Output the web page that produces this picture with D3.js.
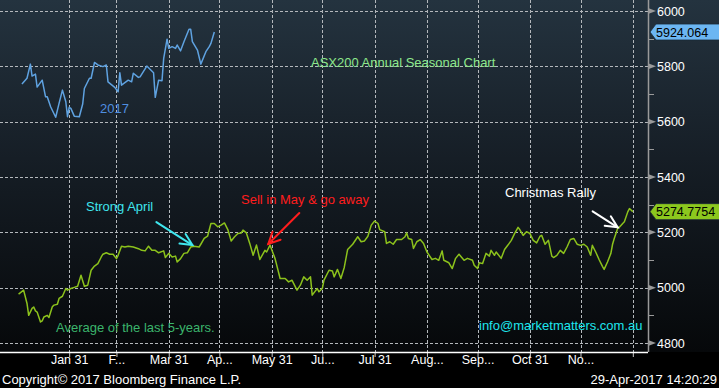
<!DOCTYPE html>
<html>
<head>
<meta charset="utf-8">
<script src="https://cdn.jsdelivr.net/npm/d3@7"></script>
<style>
  html, body { margin: 0; padding: 0; background: #000; }
  svg { display: block; }
  text { font-family: "Liberation Sans", Arial, sans-serif; }
</style>
</head>
<body>
<svg id="chart" width="719" height="388"></svg>
<script>
// ---- data (day of year, index level) ----
const seasonalAvg = [
  [0, 4977], [3, 4991], [5, 4943], [6, 4900], [8, 4925], [9, 4930], [10, 4916], [11, 4912],
  [13, 4876], [14, 4880], [15, 4894], [17, 4900], [18, 4892], [20, 4931], [21, 4937], [23, 4940],
  [24, 4961], [26, 4969], [28, 4997], [29, 4991], [31, 4997], [33, 5001], [35, 5005], [37, 5045],
  [39, 5005], [41, 5009], [43, 5063], [45, 5078], [47, 5087], [49, 5111], [50, 5121], [52, 5126],
  [54, 5121], [56, 5121], [58, 5105], [59, 5117], [61, 5150], [63, 5147], [65, 5150], [68, 5147],
  [71, 5141], [73, 5135], [75, 5133], [77, 5150], [79, 5135], [81, 5135], [83, 5126], [86, 5133],
  [87, 5109], [89, 5124], [91, 5111], [93, 5114], [94, 5093], [96, 5105], [98, 5124], [100, 5126],
  [102, 5147], [104, 5150], [107, 5147], [108, 5157], [110, 5178], [112, 5186], [114, 5232], [116, 5232],
  [118, 5220], [120, 5226], [122, 5234], [124, 5210], [126, 5169], [128, 5184], [130, 5196], [132, 5198],
  [133, 5208], [135, 5198], [137, 5160], [139, 5117], [141, 5154], [143, 5102], [146, 5135], [147, 5129],
  [149, 5154], [152, 5105], [155, 5033], [158, 5033], [160, 5021], [162, 5027], [165, 4991], [167, 5009],
  [169, 5039], [171, 5027], [173, 5039], [174, 4973], [177, 4997], [178, 4985], [180, 4997], [181, 5027],
  [184, 5063], [186, 5060], [187, 5039], [189, 5066], [191, 5033], [193, 5073], [195, 5138], [198, 5157],
  [201, 5184], [203, 5166], [205, 5169], [207, 5186], [209, 5226], [211, 5241], [213, 5232], [214, 5210],
  [217, 5202], [218, 5160], [220, 5166], [222, 5157], [224, 5174], [227, 5174], [229, 5184], [230, 5198],
  [231, 5178], [233, 5174], [234, 5142], [236, 5166], [238, 5174], [240, 5160], [242, 5129], [245, 5102],
  [247, 5106], [249, 5099], [251, 5133], [252, 5099], [255, 5090], [257, 5069], [259, 5106], [261, 5121],
  [264, 5099], [266, 5106], [269, 5099], [270, 5081], [272, 5069], [273, 5090], [275, 5087], [277, 5124],
  [279, 5114], [280, 5135], [282, 5117], [283, 5129], [286, 5106], [288, 5138], [290, 5154], [292, 5171],
  [294, 5196], [296, 5218], [297, 5210], [299, 5189], [301, 5202], [303, 5196], [305, 5171], [307, 5162],
  [309, 5186], [310, 5189], [312, 5157], [314, 5171], [316, 5114], [317, 5109], [319, 5117], [321, 5135],
  [323, 5124], [325, 5147], [327, 5174], [329, 5178], [331, 5157], [333, 5153], [335, 5157], [337, 5147],
  [339, 5117], [340, 5153], [342, 5129], [344, 5102], [346, 5077], [347, 5066], [349, 5093], [351, 5124],
  [352, 5157], [353, 5178], [355, 5214], [356, 5218], [358, 5232], [359, 5238], [361, 5274], [362, 5286],
  [364, 5274.7754]
];

const ytd2017 = [
  [2, 5736], [5, 5757], [7, 5808], [8, 5765], [10, 5772], [11, 5725], [14, 5750], [16, 5690],
  [17, 5690], [19, 5654], [22, 5616], [24, 5666], [26, 5714], [28, 5672], [29, 5618], [30, 5652],
  [31, 5648], [33, 5620], [36, 5618], [38, 5664], [39, 5720], [42, 5757], [43, 5757], [45, 5814],
  [47, 5805], [50, 5799], [52, 5805], [53, 5744], [57, 5724], [59, 5708], [60, 5777], [61, 5732],
  [65, 5750], [67, 5744], [68, 5775], [71, 5760], [72, 5762], [76, 5801], [80, 5777], [81, 5688],
  [83, 5750], [85, 5748], [86, 5829], [88, 5898], [89, 5865], [91, 5871], [93, 5865], [94, 5877],
  [96, 5856], [98, 5889], [101, 5934], [102, 5934], [103, 5889], [106, 5859], [108, 5808], [111, 5853],
  [113, 5871], [114, 5883], [116, 5924.064]
];

const monthEnds = ["2017-01-31", "2017-02-28", "2017-03-31", "2017-04-30", "2017-05-31", "2017-06-30",
  "2017-07-31", "2017-08-31", "2017-09-30", "2017-10-31", "2017-11-30", "2017-12-31"];
const monthLabels = ["Jan 31", "F...", "Mar 31", "Ap...", "May 31", "Ju...",
  "Jul 31", "Aug...", "Sep...", "Oct 31", "No...", ""];

const yMajor = [4800, 5000, 5200, 5400, 5600, 5800, 6000];
const yMinor = [4900, 5100, 5300, 5500, 5700, 5900];

// annotations: arrow tip at (day, value), tail offset and text in px
const notes = [
  { text: "Strong April", color: "#3fe6ee", day: 102.5, value: 5154, tail: [-36, -23], tx: 86, ty: 211 },
  { text: "Sell in May & go away", color: "#ff1d1d", day: 148, value: 5158, tail: [31, -31], tx: 241, ty: 204 },
  { text: "Christmas Rally", color: "#ffffff", day: 355, value: 5218, tail: [-25, -16], tx: 505, ty: 197 }
];

// ---- layout ----
const W = 719, H = 388;
const plot = { left: 0, right: 648, top: 0, bottom: 352 };
const axisFont = "'DejaVu Sans Condensed', 'Liberation Sans', sans-serif";

const base = new Date(2017, 0, 1);
const dayToDate = d => d3.timeDay.offset(base, Math.round(d));

const x = d3.scaleTime()
  .domain([d3.timeDay.offset(base, -10.2), d3.timeDay.offset(base, 373.5)])
  .range([plot.left, plot.right]);

const y = d3.scaleLinear()
  .domain([4767.5, 6039.8])
  .range([plot.bottom, plot.top]);

const svg = d3.select("#chart");
const defs = svg.append("defs");

const grad = defs.append("linearGradient")
  .attr("id", "bg").attr("x1", 0).attr("y1", 0).attr("x2", 0).attr("y2", 1);
grad.append("stop").attr("offset", "0%").attr("stop-color", "#24333f");
grad.append("stop").attr("offset", "45%").attr("stop-color", "#161e26");
grad.append("stop").attr("offset", "100%").attr("stop-color", "#06080a");

svg.append("rect").attr("width", W).attr("height", H).attr("fill", "#000");
svg.append("rect")
  .attr("x", 0).attr("y", 0)
  .attr("width", W).attr("height", plot.bottom)
  .attr("fill", "url(#bg)");

// ---- grid ----
const grid = svg.append("g").attr("stroke", "#b4b8bc").attr("stroke-width", 1)
  .attr("stroke-dasharray", "3,2").attr("shape-rendering", "crispEdges");

grid.selectAll("line.h").data(yMajor).join("line")
  .attr("class", "h")
  .attr("x1", plot.left).attr("x2", plot.right)
  .attr("y1", d => Math.round(y(d)) + 0.5).attr("y2", d => Math.round(y(d)) + 0.5);

const monthDates = monthEnds.map(s => d3.timeParse("%Y-%m-%d")(s));
grid.selectAll("line.v").data(monthDates).join("line")
  .attr("class", "v")
  .attr("y1", plot.top).attr("y2", plot.bottom)
  .attr("x1", d => Math.round(x(d)) + 0.5).attr("x2", d => Math.round(x(d)) + 0.5);

// ---- x axis ----
const xAxis = d3.axisBottom(x)
  .tickValues(monthDates)
  .tickSize(5)
  .tickFormat((d, i) => monthLabels[i]);

const gx = svg.append("g")
  .attr("transform", `translate(0,${plot.bottom})`)
  .call(xAxis);
gx.select(".domain").remove();
gx.selectAll(".tick line").attr("stroke", "#c8c8c8");
gx.selectAll(".tick text")
  .attr("fill", "#ffffff").attr("font-size", 12.5).attr("dy", "0.35em")
  .attr("font-family", axisFont);

svg.append("line")
  .attr("x1", 0).attr("x2", plot.right)
  .attr("y1", plot.bottom + 0.5).attr("y2", plot.bottom + 0.5)
  .attr("stroke", "#ffffff").attr("stroke-width", 1.5);

// ---- y axis (right) ----
const gy = svg.append("g").attr("transform", `translate(${plot.right},0)`);
gy.append("line")
  .attr("x1", 0.5).attr("x2", 0.5).attr("y1", 0).attr("y2", plot.bottom)
  .attr("stroke", "#9a9a9a").attr("stroke-width", 1.5);

gy.selectAll("line.minor").data(yMinor).join("line")
  .attr("class", "minor")
  .attr("x1", 0).attr("x2", 6)
  .attr("y1", d => Math.round(y(d)) + 0.5).attr("y2", d => Math.round(y(d)) + 0.5)
  .attr("stroke", "#9a9a9a");

const major = gy.selectAll("g.major").data(yMajor).join("g")
  .attr("class", "major")
  .attr("transform", d => `translate(0,${y(d)})`);
major.append("path")
  .attr("d", "M0,-3L8,0L0,3Z")
  .attr("fill", "#9a9a9a");
major.append("text")
  .attr("x", 9).attr("dy", "0.36em")
  .attr("fill", "#ffffff").attr("font-size", 12.5)
  .attr("font-family", axisFont)
  .text(d => d);

// ---- lines ----
const line = d3.line()
  .x(d => x(dayToDate(d[0])))
  .y(d => y(d[1]));

svg.append("path")
  .datum(seasonalAvg)
  .attr("fill", "none")
  .attr("stroke", "#8cc21c")
  .attr("stroke-width", 1.5)
  .attr("stroke-linejoin", "round")
  .attr("d", line);

svg.append("path")
  .datum(ytd2017)
  .attr("fill", "none")
  .attr("stroke", "#5fa2e0")
  .attr("stroke-width", 1.5)
  .attr("stroke-linejoin", "round")
  .attr("d", line);

// ---- last value tags ----
const tags = [
  { value: ytd2017[ytd2017.length - 1][1], label: "5924.064", fill: "#6cb6f2" },
  { value: seasonalAvg[seasonalAvg.length - 1][1], label: "5274.7754", fill: "#8cc81e" }
];
const tag = svg.selectAll("g.tag").data(tags).join("g")
  .attr("class", "tag")
  .attr("transform", d => `translate(${plot.right + 2},${y(d.value)})`);
tag.append("path")
  .attr("d", "M0,0L6,-8L70,-8L70,8L6,8Z")
  .attr("fill", d => d.fill)
  .attr("stroke", "#1a2a36").attr("stroke-width", 0.8);
tag.append("text")
  .attr("x", 6).attr("dy", "0.36em")
  .attr("fill", "#000").attr("font-size", 12.5)
  .attr("font-family", axisFont)
  .text(d => d.label);

// ---- texts ----
const label = (txt, tx, ty, color, size) =>
  svg.append("text").attr("x", tx).attr("y", ty)
    .attr("fill", color).attr("font-size", size || 13).text(txt);

label("ASX200 Annual Seasonal Chart", 311, 67, "#8de88c");
label("2017", 100, 113, "#4f8fe0");
label("Average of the last 5-years.", 56, 332, "#3bb56c");
label("info@marketmatters.com.au", 479, 330, "#1ee6ee");

// ---- annotation arrows ----
notes.forEach(n => {
  const tipX = x(dayToDate(n.day)), tipY = y(n.value);
  const tailX = tipX + n.tail[0], tailY = tipY + n.tail[1];
  const ang = Math.atan2(tipY - tailY, tipX - tailX);
  const head = 13, spread = 0.45;
  const g = svg.append("g")
    .attr("stroke", n.color).attr("stroke-width", 2)
    .attr("fill", "none").attr("stroke-linecap", "round");
  g.append("line")
    .attr("x1", tailX).attr("y1", tailY).attr("x2", tipX).attr("y2", tipY);
  g.append("path").attr("d",
    `M${tipX - head * Math.cos(ang - spread)},${tipY - head * Math.sin(ang - spread)}` +
    `L${tipX},${tipY}` +
    `L${tipX - head * Math.cos(ang + spread)},${tipY - head * Math.sin(ang + spread)}`);
  label(n.text, n.tx, n.ty, n.color);
});

// ---- footer ----
svg.append("text").attr("x", 2).attr("y", 384)
  .attr("fill", "#ffffff").attr("font-size", 13)
  .attr("font-family", axisFont)
  .text("Copyright\u00a9 2017 Bloomberg Finance L.P.");
svg.append("text").attr("x", 717).attr("y", 384).attr("text-anchor", "end")
  .attr("fill", "#ffffff").attr("font-size", 13)
  .attr("font-family", axisFont)
  .text("29-Apr-2017 14:20:29");
</script>
</body>
</html>
